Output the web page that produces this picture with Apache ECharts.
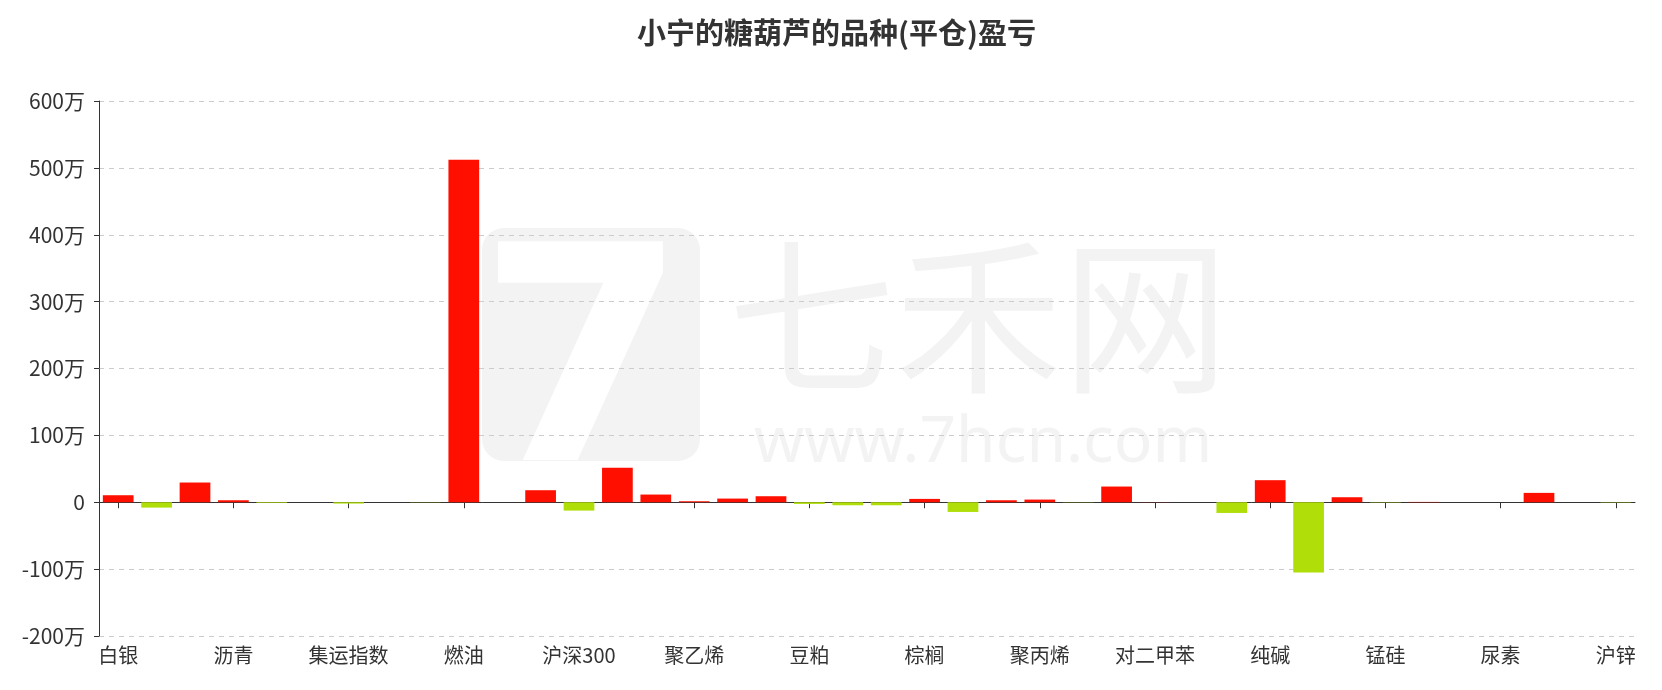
<!DOCTYPE html>
<html>
<head>
<meta charset="utf-8">
<script src="https://cdn.jsdelivr.net/npm/echarts@6/dist/echarts.min.js"></script>
<style>
html,body{margin:0;padding:0;background:#fff;}
#chart{width:1662px;height:690px;}
</style>
</head>
<body>
<div id="chart"></div>
<script>
var titleText = '小宁的糖葫芦的品种(平仓)盈亏';
var categories = ['白银','黄金','原油','沥青','橡胶','螺纹钢','集运指数','低硫燃油','甲醇','燃油',
  'PTA','中证500','沪深300','上证50','中证1000','聚乙烯','PVC','豆油','豆粕','菜粕',
  '玉米','棕榈','棉花','白糖','聚丙烯','苯乙烯','乙二醇','对二甲苯','短纤','玻璃',
  '纯碱','纸浆','硅铁','锰硅','工业硅','碳酸锂','尿素','铁矿石','沪铜','沪锌'];
// profit / loss in yuan
var profits = [105000,-80000,295000,30000,-10000,0,-20000,0,-3000,5120000,
  0,180000,-125000,515000,115000,15000,55000,90000,-25000,-45000,
  -45000,50000,-145000,30000,40000,-3000,235000,2000,0,-160000,
  330000,-1050000,75000,-5000,5000,0,0,140000,0,-5000];
var yTicks = {min:-2000000, max:6000000, interval:1000000};
var posColor = '#FF0F00';
var negColor = '#B0DE09';

var chart = echarts.init(document.getElementById('chart'), null, {renderer:'canvas'});
var font = '"Noto Sans CJK SC","Noto Sans",sans-serif';
chart.setOption({
  animation:false,
  backgroundColor:'#fff',
  title:{text:titleText,left:632,top:13,
    textStyle:{fontSize:29,fontWeight:'bold',color:'#333',fontFamily:font}},
  graphic:[
    {type:'rect',z:-10,shape:{x:482,y:228,width:218,height:233,r:22},style:{fill:'#f3f3f3'}},
    {type:'text',z:-9,left:478,top:232,style:{text:'7',fill:'#fff',font:'bold 300px "DejaVu Sans"'}},
    {type:'text',z:-10,left:728,top:233,style:{text:'七禾网',fill:'#f3f3f3',font:'167px "Noto Sans CJK SC"'}},
    {type:'text',z:-10,left:754,top:412,style:{text:'www.7hcn.com',fill:'#f3f3f3',font:'64px "Noto Sans"'}}
  ],
  grid:{left:99,right:27,top:101,bottom:54,containLabel:false},
  xAxis:[{
    type:'category',data:categories,position:'bottom',
    axisLine:{show:false,onZero:false},axisTick:{show:false},
    axisLabel:{interval:2,margin:9,fontSize:20,color:'#333',fontFamily:font},
    splitLine:{show:false}
  },{
    type:'category',data:categories,position:'bottom',
    axisLine:{show:true,onZero:true,lineStyle:{color:'#333',width:1}},
    axisTick:{show:true,interval:2,alignWithLabel:true,length:6,lineStyle:{color:'#333'}},
    axisLabel:{show:false,interval:2},
    splitLine:{show:false}
  }],
  yAxis:{
    type:'value',min:yTicks.min,max:yTicks.max,interval:yTicks.interval,
    axisLine:{show:true,lineStyle:{color:'#333',width:1}},
    axisTick:{show:true,length:5,lineStyle:{color:'#333'}},
    axisLabel:{margin:14,fontSize:21,color:'#333',fontFamily:font,
      formatter:function(v){return v===0?'0':(v/10000)+'万';}},
    splitLine:{show:true,lineStyle:{color:'#ccc',type:[5,5]}}
  },
  series:[{
    type:'bar',xAxisIndex:0,data:profits,barCategoryGap:'20%',
    itemStyle:{color:function(p){return p.value>=0?posColor:negColor;}}
  }]
});
</script>
</body>
</html>
